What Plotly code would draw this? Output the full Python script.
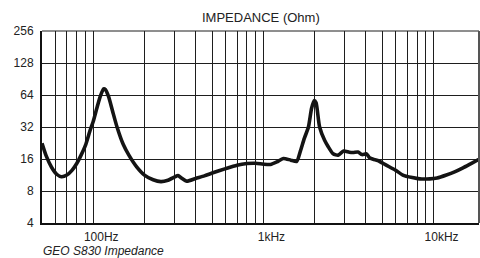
import math
import plotly.graph_objects as go

# Impedance curve (frequency in Hz, impedance in Ohm)
freq = [50, 53, 57, 61, 65, 70, 75, 80, 85, 90, 96, 100, 105, 110, 115, 118, 123, 130, 138, 150,
        162, 180, 200, 225, 250, 275, 300, 315, 330, 355, 400, 450, 500, 600, 700, 800, 900,
        1000, 1100, 1200, 1310, 1450, 1570, 1650, 1740, 1840, 1920, 1990, 2040, 2140, 2290,
        2400, 2570, 2750, 2960, 3200, 3370, 3600, 3800, 4040, 4200, 4420, 4700, 5270, 6000,
        6600, 7500, 8300, 9500, 10500, 11900, 13300, 14900, 16500, 18500]
impedance = [22.5, 17.0, 13.3, 11.5, 10.9, 11.3, 12.5, 14.5, 17.5, 21.5, 30, 36, 48, 62, 73, 72,
             62, 45, 32, 22, 17.4, 13.5, 11.3, 10.2, 9.8, 10.1, 10.8, 11.2, 10.6, 9.9, 10.5, 11.1,
             11.8, 13.0, 14.0, 14.5, 14.6, 14.3, 14.2, 15.0, 16.2, 15.6, 15.2, 19, 25, 32, 48,
             56.7, 54, 32, 24, 21, 17.9, 17.4, 19.0, 18.5, 18.4, 18.6, 17.6, 17.9, 16.5, 15.9,
             15.5, 14.0, 12.5, 11.3, 10.7, 10.4, 10.4, 10.6, 11.3, 12.1, 13.2, 14.4, 15.9]

x_grid = [50, 60, 70, 80, 90, 100, 200, 300, 400, 500, 600, 700, 800, 900,
          1000, 2000, 3000, 4000, 5000, 6000, 7000, 8000, 9000, 10000]
x_labels = {100: "100Hz", 1000: "1kHz", 10000: "10kHz"}
y_ticks = [4, 8, 16, 32, 64, 128, 256]
y_labels = ["4", "8", "16", "32", "64", "128", "256"]

title_text = "IMPEDANCE (Ohm)"
caption_text = "GEO S830 Impedance"

fig = go.Figure()
fig.add_trace(go.Scatter(
    x=freq, y=impedance, mode="lines",
    line=dict(color="#141414", width=3.6, shape="spline", smoothing=0.6),
    hoverinfo="skip", showlegend=False,
))

font = "Liberation Sans, Arial, Helvetica, sans-serif"

fig.update_layout(
    width=480, height=258,
    margin=dict(l=42, r=1, t=31, b=35),
    paper_bgcolor="white", plot_bgcolor="white",
    font=dict(family=font, size=12, color="#222"),
    xaxis=dict(
        type="log", range=[math.log10(50), math.log10(18500)],
        tickmode="array", tickvals=x_grid,
        ticktext=[x_labels.get(v, "") for v in x_grid],
        showgrid=True, gridcolor="#1e1e1e", gridwidth=1,
        showline=True, linecolor="#111", linewidth=2,
        ticks="outside", ticklen=2, tickcolor="rgba(0,0,0,0)",
        ticklabelshift=8, zeroline=False,
        tickfont=dict(size=12, color="#222"),
    ),
    yaxis=dict(
        type="log", range=[math.log10(4), math.log10(256)],
        tickmode="array", tickvals=y_ticks, ticktext=y_labels,
        showgrid=True, gridcolor="#1e1e1e", gridwidth=1,
        showline=True, linecolor="#111", linewidth=2,
        ticks="outside", ticklen=4, tickcolor="rgba(0,0,0,0)",
        zeroline=False,
        tickfont=dict(size=12, color="#222"),
    ),
    shapes=[
        dict(type="line", xref="paper", yref="paper", x0=0, x1=1, y0=1, y1=1,
             line=dict(color="#1e1e1e", width=1)),
        dict(type="line", xref="paper", yref="paper", x0=1, x1=1, y0=0, y1=1,
             line=dict(color="#555", width=2)),
    ],
    annotations=[
        dict(text=title_text, xref="paper", yref="paper", x=0.5, y=1, yshift=14,
             xanchor="center", yanchor="middle", showarrow=False,
             font=dict(family=font, size=13, color="#222")),
        dict(text="<i>" + caption_text + "</i>", xref="paper", yref="paper", x=0, y=0,
             xshift=-1, yshift=-28, xanchor="left", yanchor="middle", showarrow=False,
             font=dict(family="Liberation Sans Narrow, Arial Narrow, " + font, size=12, color="#222")),
    ],
)

fig.write_html("out.html", config={"displayModeBar": False, "staticPlot": True},
               post_script="document.body.style.margin='0px';document.body.style.overflow='hidden';")
